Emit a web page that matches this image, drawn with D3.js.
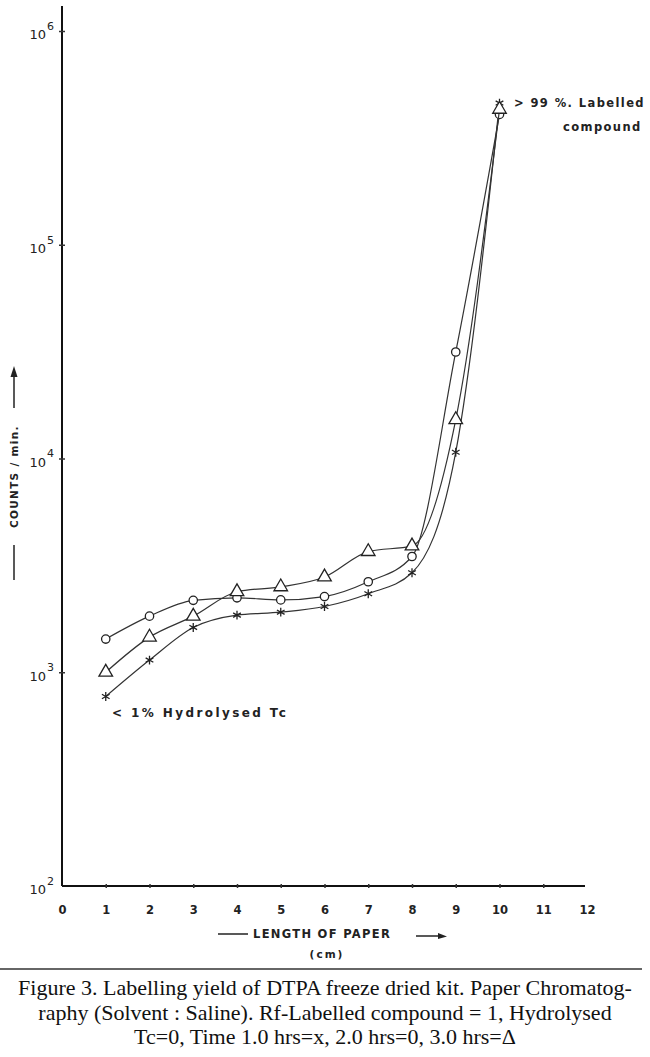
<!DOCTYPE html>
<html>
<head>
<meta charset="utf-8">
<script src="https://cdn.jsdelivr.net/npm/d3@7/dist/d3.min.js"></script>
<style>
  body { margin: 0; background: #fff; }
  .lbl { font-family: "DejaVu Sans", sans-serif; font-weight: bold; fill: #222; }
  .cap { font-family: "Liberation Serif", serif; fill: #111; }
</style>
</head>
<body>
<div id="chart"></div>
<script>
// positions along the paper (cm)
var lengths = [1, 2, 3, 4, 5, 6, 7, 8, 9, 10];
// counts/min
var hrs1 = [770, 1140, 1620, 1850, 1910, 2030, 2330, 2920, 10700, 460000];   // x
var hrs2 = [1430, 1830, 2170, 2230, 2180, 2260, 2650, 3480, 31500, 407000];  // o
var hrs3 = [1000, 1460, 1830, 2380, 2510, 2790, 3670, 3900, 15200, 430000];  // triangle
var xTicks = [0, 1, 2, 3, 4, 5, 6, 7, 8, 9, 10, 11, 12];
var yTicks = [1e2, 1e3, 1e4, 1e5, 1e6];
var captionLines = [
  "Figure 3. Labelling yield of DTPA freeze dried kit. Paper Chromatog-",
  "raphy (Solvent : Saline). Rf-Labelled compound  =  1, Hydrolysed",
  "Tc=0, Time 1.0 hrs=x, 2.0 hrs=0, 3.0 hrs=\u0394"
];

var width = 650, height = 1057;

var svg = d3.select("#chart").append("svg")
    .attr("width", width)
    .attr("height", height);

var x = d3.scaleLinear().domain([0, 12]).range([62, 587]);
var y = d3.scaleLog().domain([100, 1e6]).range([886, 31]);

// x axis
var xAxis = svg.append("g")
    .attr("transform", "translate(0," + y(100) + ")")
    .call(d3.axisBottom(x).tickValues(xTicks).tickSize(0).tickPadding(20).tickFormat(d3.format("d")));
xAxis.select(".domain").attr("stroke", "#111").attr("stroke-width", 2).attr("d", "M62,0H585");
xAxis.selectAll(".tick text").attr("class", "lbl").style("font-size", "11.5px");
xAxis.selectAll(".tick").filter(function(d) { return d > 0 && d < 12; })
    .append("line").attr("y1", -2).attr("y2", 2).attr("stroke", "#333").attr("stroke-width", 1.5);

// y axis
var yAxis = svg.append("g")
    .attr("transform", "translate(" + x(0) + ",0)")
    .call(d3.axisLeft(y).tickValues(yTicks).tickSize(0).tickPadding(8).tickFormat(""));
yAxis.select(".domain").attr("stroke", "#111").attr("stroke-width", 2).attr("d", "M0,6V" + y(100));
yAxis.selectAll(".tick").filter(function(d) { return d > 100; })
    .append("line").attr("x1", -3).attr("x2", 3).attr("stroke", "#333").attr("stroke-width", 1.5);
yAxis.selectAll(".tick text")
    .attr("class", "lbl")
    .style("font-size", "13px")
    .style("font-weight", "normal")
    .attr("dy", "0.6em")
    .each(function(d) {
      var t = d3.select(this);
      t.text("10");
      t.append("tspan").attr("dy", "-0.85em").attr("dx", "1").style("font-size", "11px")
          .text(Math.round(Math.log10(d)));
    });

// series
var line = d3.line()
    .x(function(d) { return x(d[0]); })
    .y(function(d) { return y(d[1]); })
    .curve(d3.curveMonotoneX);

var series = [
  { vals: hrs1, sym: d3.symbolAsterisk, size: 55 },
  { vals: hrs2, sym: d3.symbolCircle, size: 55 },
  { vals: hrs3, sym: d3.symbolTriangle, size: 80 }
];

series.forEach(function(s) {
  var pts = lengths.map(function(l, i) { return [l, s.vals[i]]; });
  svg.append("path")
      .datum(pts)
      .attr("fill", "none")
      .attr("stroke", "#333")
      .attr("stroke-width", 1.2)
      .attr("d", line);
  svg.selectAll(null)
      .data(pts)
      .enter().append("path")
      .attr("transform", function(d) { return "translate(" + x(d[0]) + "," + y(d[1]) + ")"; })
      .attr("d", d3.symbol().type(s.sym).size(s.size))
      .attr("fill", s.sym === d3.symbolAsterisk ? "none" : "#fff")
      .attr("stroke", "#222")
      .attr("stroke-width", 1.3);
});

// annotations
svg.append("text").attr("class", "lbl").attr("x", 514).attr("y", 107)
    .style("font-size", "11.5px").style("letter-spacing", "1.4px").text("> 99 %. Labelled");
svg.append("text").attr("class", "lbl").attr("x", 563).attr("y", 131)
    .style("font-size", "11.5px").style("letter-spacing", "1.4px").text("compound");
svg.append("text").attr("class", "lbl").attr("x", 112).attr("y", 717)
    .style("font-size", "12px").style("letter-spacing", "2.4px").text("< 1% Hydrolysed Tc");

// x title
var xt = svg.append("g");
xt.append("line").attr("x1", 218).attr("x2", 248).attr("y1", 934).attr("y2", 934)
    .attr("stroke", "#222").attr("stroke-width", 1.5);
xt.append("text").attr("class", "lbl").attr("x", 253).attr("y", 938)
    .style("font-size", "11.5px").style("letter-spacing", "1.3px").text("LENGTH OF PAPER");
xt.append("line").attr("x1", 416).attr("x2", 440).attr("y1", 936).attr("y2", 936)
    .attr("stroke", "#222").attr("stroke-width", 1.5);
xt.append("path").attr("d", "M438,933L447,936.5L438,939Z").attr("fill", "#222");
xt.append("text").attr("class", "lbl").attr("x", 327).attr("y", 958)
    .attr("text-anchor", "middle").style("font-size", "10.5px").style("letter-spacing", "2px").text("(cm)");

// y title
var yt = svg.append("g").attr("transform", "translate(18,0) rotate(-90)");
yt.append("line").attr("x1", -580).attr("x2", -545).attr("y1", -4).attr("y2", -4)
    .attr("stroke", "#222").attr("stroke-width", 1.5);
yt.append("text").attr("class", "lbl").attr("x", -528).attr("y", 0)
    .style("font-size", "10.5px").style("letter-spacing", "1.3px").text("COUNTS / min.");
yt.append("line").attr("x1", -408).attr("x2", -375).attr("y1", -4).attr("y2", -4)
    .attr("stroke", "#222").attr("stroke-width", 1.5);
yt.append("path").attr("d", "M-377,-7.5L-366,-4L-377,-0.5Z").attr("fill", "#222");

// rule and caption
svg.append("line").attr("x1", 0).attr("x2", 642).attr("y1", 969).attr("y2", 969)
    .attr("stroke", "#333").attr("stroke-width", 1.5);
svg.selectAll(".capline")
    .data(captionLines)
    .enter().append("text")
    .attr("class", "cap")
    .attr("x", 325)
    .attr("y", function(d, i) { return 995 + i * 24.5; })
    .attr("text-anchor", "middle")
    .style("font-size", "22px")
    .text(function(d) { return d; });
</script>
</body>
</html>
